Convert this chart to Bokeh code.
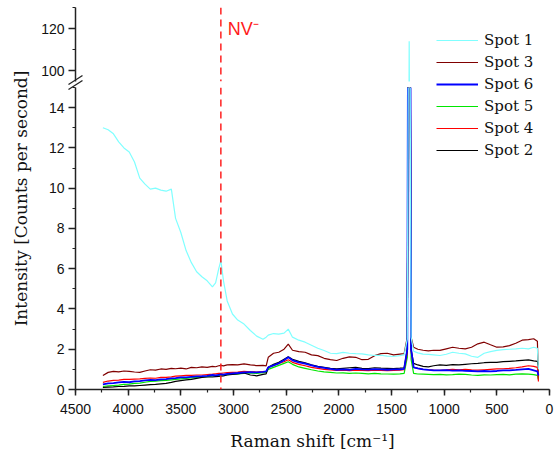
import math
from bokeh.plotting import figure
from bokeh.models import (Range1d, SingleIntervalTicker, Span, Label, Legend,
                          LegendItem)
from bokeh.embed import file_html
from bokeh.resources import INLINE

# ---------------- data ----------------
raman_shift = [4240, 4190, 4140, 4090, 4040, 3990, 3940, 3890, 3840, 3790,
               3740, 3690, 3640, 3590, 3550, 3500, 3450, 3400, 3350, 3300,
               3250, 3200, 3170, 3140, 3120, 3095, 3060, 3010, 2960, 2900,
               2840, 2780, 2720, 2690, 2670, 2620, 2570, 2520, 2480, 2440,
               2380, 2320, 2260, 2200, 2140, 2080, 2020, 1960, 1900, 1840,
               1780, 1720, 1660, 1600, 1540, 1480, 1420, 1380, 1350, 1338,
               1332, 1326, 1314, 1290, 1250, 1200, 1150, 1100, 1040, 980,
               920, 860, 800, 740, 680, 620, 560, 500, 440, 380,
               320, 260, 200, 150, 115, 105]

spot1 = [13.0, 12.9, 12.7, 12.3, 12.0, 11.8, 11.3, 10.5, 10.2, 9.95,
         10.0, 9.9, 9.85, 9.95, 8.5, 7.8, 6.9, 6.3, 5.85, 5.6,
         5.4, 5.1, 5.3, 6.0, 6.4, 5.4, 4.4, 3.75, 3.45, 3.25,
         2.93, 2.65, 2.5, 2.6, 2.7, 2.78, 2.75, 2.8, 3.0, 2.6,
         2.45, 2.35, 2.2, 2.05, 1.94, 1.8, 1.78, 1.84, 1.8, 1.78,
         1.77, 1.72, 1.69, 1.7, 1.66, 1.64, 1.68, 1.72, 2.5, 20.0,
         114.0, 20.0, 2.6, 1.9, 1.82, 1.76, 1.74, 1.72, 1.69, 1.75,
         1.85, 1.8, 1.77, 1.65, 1.6, 1.8, 1.88, 1.94, 1.98, 2.0,
         2.02, 2.05, 2.02, 2.1, 2.05, 1.0]

spot3 = [0.7, 0.85, 0.9, 0.88, 0.92, 0.9, 0.87, 0.85, 0.92, 0.98,
         0.96, 1.02, 1.0, 1.05, 1.03, 1.06, 1.02, 1.1, 1.08, 1.12,
         1.1, 1.15, 1.13, 1.18, 1.2, 1.17, 1.22, 1.24, 1.22, 1.27,
         1.22, 1.19, 1.2, 1.17, 1.6, 1.8, 1.85, 2.0, 2.25, 1.95,
         1.88, 1.85, 1.72, 1.68, 1.55, 1.48, 1.44, 1.55, 1.62, 1.6,
         1.48, 1.5, 1.68, 1.78, 1.8, 1.72, 1.76, 1.78, 2.6, 20.0,
         40.0, 20.0, 2.6, 2.1, 2.0, 1.95, 1.92, 1.95, 1.94, 2.02,
         2.1, 2.05, 2.02, 2.1, 2.27, 2.35, 2.22, 2.1, 2.12, 2.18,
         2.3, 2.45, 2.48, 2.52, 2.4, 0.5]

spot6 = [0.25, 0.3, 0.32, 0.35, 0.38, 0.36, 0.4, 0.42, 0.45, 0.48,
         0.47, 0.5, 0.52, 0.55, 0.56, 0.6, 0.6, 0.63, 0.65, 0.66,
         0.68, 0.72, 0.7, 0.73, 0.75, 0.74, 0.78, 0.8, 0.82, 0.85,
         0.86, 0.85, 0.88, 0.9, 1.1, 1.2, 1.3, 1.45, 1.6, 1.45,
         1.35, 1.28, 1.2, 1.12, 1.07, 1.02, 0.98, 1.0, 0.98, 1.02,
         1.0, 0.99, 1.01, 1.0, 0.98, 1.0, 1.0, 1.02, 2.0, 30.0,
         80.0, 30.0, 2.0, 1.1, 1.05, 1.0, 0.97, 0.95, 0.95, 0.96,
         0.94, 0.95, 0.93, 0.92, 0.9, 0.92, 0.9, 0.92, 0.95, 0.95,
         0.97, 1.0, 1.02, 0.95, 0.9, 0.7]

spot5 = [0.15, 0.18, 0.2, 0.22, 0.25, 0.27, 0.3, 0.32, 0.36, 0.4,
         0.42, 0.44, 0.45, 0.48, 0.5, 0.53, 0.55, 0.58, 0.6, 0.62,
         0.64, 0.67, 0.68, 0.7, 0.72, 0.71, 0.74, 0.76, 0.78, 0.8,
         0.82, 0.8, 0.84, 0.85, 1.0, 1.1, 1.2, 1.3, 1.38, 1.25,
         1.12, 1.05, 0.98, 0.92, 0.88, 0.85, 0.82, 0.83, 0.8, 0.82,
         0.8, 0.78, 0.8, 0.78, 0.77, 0.76, 0.78, 0.8, 1.6, 25.0,
         50.0, 25.0, 1.5, 0.8, 0.77, 0.76, 0.75, 0.74, 0.75, 0.73,
         0.74, 0.76, 0.75, 0.72, 0.7, 0.73, 0.72, 0.74, 0.75, 0.73,
         0.76, 0.78, 0.76, 0.74, 0.7, 0.5]

spot4 = [0.35, 0.42, 0.45, 0.47, 0.5, 0.5, 0.52, 0.53, 0.55, 0.57,
         0.56, 0.6, 0.6, 0.63, 0.66, 0.68, 0.7, 0.7, 0.72, 0.72,
         0.74, 0.76, 0.78, 0.8, 0.8, 0.82, 0.84, 0.85, 0.86, 0.9,
         0.88, 0.87, 0.89, 0.9, 1.1, 1.2, 1.3, 1.38, 1.48, 1.35,
         1.25, 1.18, 1.1, 1.05, 1.0, 0.97, 0.95, 0.96, 0.94, 0.96,
         0.95, 0.94, 0.96, 0.95, 0.94, 0.95, 0.96, 0.98, 1.8, 28.0,
         60.0, 28.0, 1.9, 1.1, 1.05, 1.0, 0.98, 0.96, 0.95, 0.97,
         1.0, 0.98, 1.0, 0.97, 0.96, 0.98, 1.0, 1.02, 1.03, 1.05,
         1.08, 1.12, 1.18, 1.15, 1.1, 0.4]

spot2 = [0.1, 0.12, 0.13, 0.15, 0.16, 0.18, 0.18, 0.2, 0.22, 0.24,
         0.25, 0.28, 0.3, 0.35, 0.4, 0.44, 0.48, 0.5, 0.55, 0.6,
         0.62, 0.62, 0.64, 0.65, 0.66, 0.68, 0.72, 0.75, 0.78, 0.82,
         0.72, 0.68, 0.75, 0.78, 1.1, 1.25, 1.35, 1.5, 1.62, 1.5,
         1.4, 1.32, 1.22, 1.15, 1.1, 1.05, 1.02, 1.05, 1.08, 1.1,
         1.05, 1.04, 1.08, 1.06, 1.05, 1.04, 1.06, 1.08, 2.0, 25.0,
         45.0, 25.0, 2.0, 1.3, 1.22, 1.15, 1.12, 1.18, 1.22, 1.2,
         1.24, 1.22, 1.25, 1.28, 1.3, 1.33, 1.35, 1.35, 1.38, 1.4,
         1.42, 1.45, 1.47, 1.42, 1.4, 1.2]

series_names = ["Spot 1", "Spot 3", "Spot 6", "Spot 5", "Spot 4", "Spot 2"]
series_values = [spot1, spot3, spot6, spot5, spot4, spot2]
series_colors = ["#80FFFF", "#800000", "#0000FF", "#00E600", "#FF0000", "#000000"]
series_widths = [1.2, 1.2, 1.8, 1.2, 1.2, 1.2]
draw_order = [1, 3, 4, 5, 2, 0]   # indices into the series lists (last drawn on top)

nv_position = 3120
x_tick_interval = 500
lower_y_range = (0, 15)
upper_y_range = (95, 130)

# ---------------- layout constants ----------------
W, H = 555, 454
LEFT, RIGHT = 75, 6
UP_TOP, UP_BOTTOM_PX = 7, 81
LO_TOP_PX, LO_BOTTOM_PX = 87, 389

TICK_FONT = "Liberation Sans"
TITLE_FONT = "DejaVu Serif"
AXIS_COLOR = "#222222"

x_range = Range1d(4500, 0)


def style_axis(ax, tick_out):
    ax.axis_line_width = 1.5
    ax.axis_line_color = AXIS_COLOR
    ax.major_tick_line_color = AXIS_COLOR
    ax.minor_tick_line_color = AXIS_COLOR
    ax.major_tick_line_width = 1.5
    ax.minor_tick_line_width = 1.2
    ax.major_tick_in = 0
    ax.major_tick_out = tick_out
    ax.minor_tick_in = 0
    ax.minor_tick_out = 3
    ax.major_label_text_font = TICK_FONT
    ax.major_label_text_font_size = "14px"
    ax.major_label_text_color = "#111111"


def nv_span():
    return Span(location=nv_position, dimension="height", line_color="#FF2020",
                line_dash="7 5", line_width=1.5)


# ---------------- upper panel (95 - 130) ----------------
up = figure(width=W, height=H, x_range=x_range,
            y_range=Range1d(*upper_y_range), output_backend="svg",
            toolbar_location=None, x_axis_location=None,
            min_border_left=LEFT, min_border_right=RIGHT,
            min_border_top=UP_TOP, min_border_bottom=H - UP_BOTTOM_PX)
up.outline_line_color = None
up.grid.visible = False
up.yaxis.ticker = SingleIntervalTicker(interval=20, num_minor_ticks=2)
style_axis(up.yaxis[0], 7)
up.yaxis.major_label_standoff = 4

for i in draw_order:
    up.line(raman_shift, series_values[i], line_color=series_colors[i],
            line_width=series_widths[i])

up.add_layout(nv_span())
up.add_layout(Label(x=nv_position, y=120, x_offset=7, text="NV⁻",
                    text_font=TICK_FONT, text_font_size="18px",
                    text_color="#FF1A1A", text_baseline="middle"))

# ---------------- lower panel (0 - 15) ----------------
lo = figure(width=W, height=H, x_range=x_range,
            y_range=Range1d(*lower_y_range), output_backend="svg",
            toolbar_location=None,
            min_border_left=LEFT, min_border_right=RIGHT,
            min_border_top=LO_TOP_PX, min_border_bottom=H - LO_BOTTOM_PX,
            background_fill_color=None, border_fill_color=None,
            margin=(-H, 0, 0, 0))
lo.outline_line_color = None
lo.grid.visible = False
lo.xaxis.ticker = SingleIntervalTicker(interval=x_tick_interval, num_minor_ticks=2)
lo.yaxis.ticker = SingleIntervalTicker(interval=2, num_minor_ticks=2)
style_axis(lo.xaxis[0], 6)
style_axis(lo.yaxis[0], 7)
lo.xaxis.major_label_standoff = 8
lo.yaxis.major_label_standoff = 4
lo.xaxis.axis_label = "Raman shift [cm⁻¹]"
lo.xaxis.axis_label_text_font = TITLE_FONT
lo.xaxis.axis_label_text_font_size = "17px"
lo.xaxis.axis_label_text_font_style = "normal"
lo.xaxis.axis_label_text_color = "#111111"
lo.xaxis.axis_label_standoff = 14

for i in draw_order:
    lo.line(raman_shift, series_values[i], line_color=series_colors[i],
            line_width=series_widths[i])
lo.add_layout(nv_span())

# ---------------- overlay (whole window, pixel coordinates) ----------------
ov = figure(width=W, height=H, x_range=Range1d(0, W), y_range=Range1d(H, 0),
            output_backend="svg", toolbar_location=None,
            x_axis_location=None, y_axis_location=None,
            min_border_left=0, min_border_right=0, min_border_top=0,
            min_border_bottom=0, background_fill_color=None,
            border_fill_color=None, margin=(-H, 0, 0, 0))
ov.outline_line_color = None
ov.grid.visible = False

items = []
for name, vals, col, lw in zip(series_names, series_values, series_colors, series_widths):
    r = ov.line(raman_shift, vals, line_color=col, line_width=lw, visible=False)
    items.append(LegendItem(label=name, renderers=[r]))

leg_rows = 22
leg_top_px = 40 - leg_rows // 2
leg_bottom_px = leg_top_px + leg_rows * len(items)
legend = Legend(items=items, location=(436, H - leg_bottom_px),
                label_text_font=TITLE_FONT, label_text_font_size="15px",
                label_text_color="#111111",
                glyph_width=42, glyph_height=leg_rows, label_height=leg_rows,
                spacing=0, padding=0, margin=0, label_standoff=6,
                background_fill_alpha=0, border_line_color=None,
                inactive_fill_alpha=0)
ov.add_layout(legend)

# y axis title centred on the whole (broken) axis
ov.add_layout(Label(x=20, y=(UP_TOP + LO_BOTTOM_PX) / 2,
                    text="Intensity [Counts per second]", angle=math.pi / 2,
                    text_align="center", text_baseline="middle",
                    text_font=TITLE_FONT, text_font_size="17px", text_color="#111111"))

# axis break marks
ov.segment(x0=[68, 68], y0=[89, 84], x1=[82, 82], y1=[80, 75],
           line_color=AXIS_COLOR, line_width=1.3)

# separate roots (no frame alignment between them), stacked on top of each other
open("out.html", "w").write(file_html([up, lo, ov], INLINE))
